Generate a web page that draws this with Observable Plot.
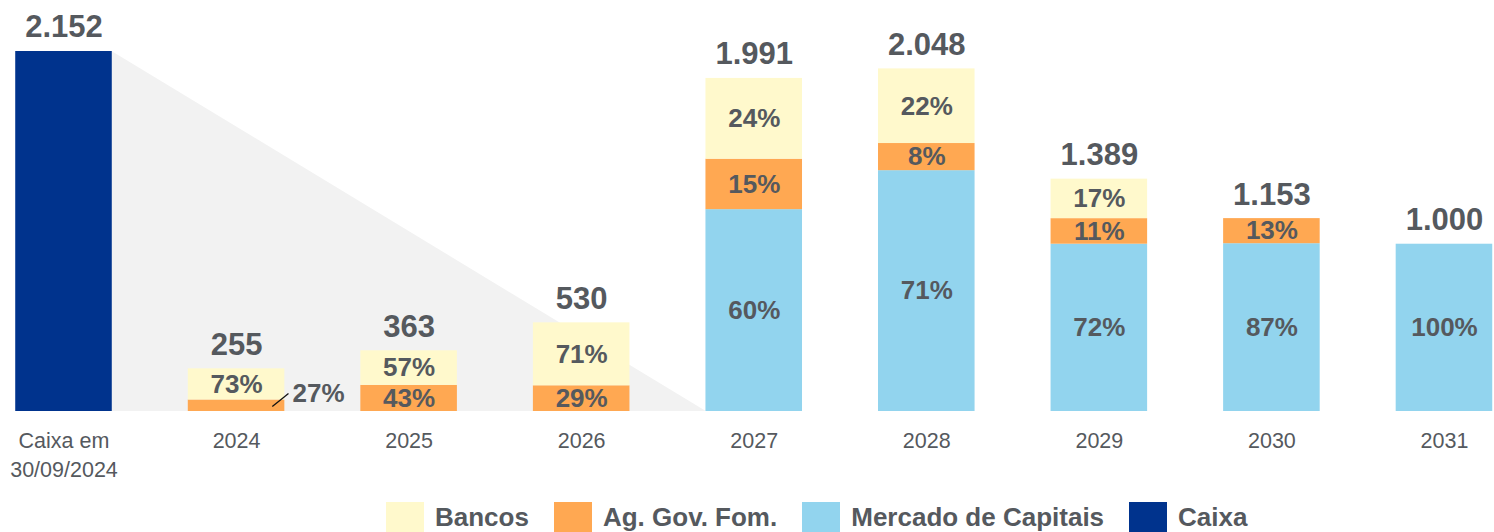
<!DOCTYPE html>
<html>
<head>
<meta charset="utf-8">
<script src="https://cdn.jsdelivr.net/npm/d3@7"></script>
<script src="https://cdn.jsdelivr.net/npm/@observablehq/plot@0.6"></script>
<style>
  html, body { margin: 0; padding: 0; background: #fff; }
  body { width: 1494px; height: 532px; overflow: hidden; font-family: "Liberation Sans", Arial, sans-serif; }
  #legend { display: flex; align-items: center; margin-left: 386px; padding-top: 12px; height: 30px; }
  .item { display: flex; align-items: center; margin-right: 25px; }
  .sw { width: 38px; height: 30px; margin-right: 11px; }
  .lbl { font-weight: bold; font-size: 26px; color: #55595e; line-height: 30px; }
</style>
</head>
<body>
<div id="chart"></div>
<div id="legend"></div>
<script>
// ---- data ----
const categories = ["Caixa em\n30/09/2024", "2024", "2025", "2026", "2027", "2028", "2029", "2030", "2031"];
const totals     = [2152, 255, 363, 530, 1991, 2048, 1389, 1153, 1000];
const pctMercado = [0, 0, 0, 0, 60, 71, 72, 87, 100];
const pctAg      = [0, 27, 43, 29, 15, 8, 11, 13, 0];
const pctBancos  = [0, 73, 57, 71, 24, 22, 17, 0, 0];
const seriesNames  = ["Bancos", "Ag. Gov. Fom.", "Mercado de Capitais", "Caixa"];
const seriesColors = ["#FFF9CC", "#FFA852", "#92D4EE", "#00338D"];

const gray = "#55595e";
const fmt = d3.formatLocale({decimal: ",", thousands: ".", grouping: [3], currency: ["", ""]}).format(",d");

// build stacked rows (bottom to top: Mercado, Ag, Bancos)
const rows = [];
rows.push({i: 0, series: "Caixa", value: totals[0], pct: null});
for (let i = 1; i < categories.length; i++) {
  const parts = [["Mercado de Capitais", pctMercado[i]], ["Ag. Gov. Fom.", pctAg[i]], ["Bancos", pctBancos[i]]];
  const sum = parts.reduce((s, p) => s + p[1], 0);
  for (const [series, pct] of parts) {
    if (pct > 0) rows.push({i, series, pct, value: totals[i] * pct / sum});
  }
}
// the 2024 Ag. Gov. Fom. share is labelled outside the bar
const outside = rows.find(d => d.i === 1 && d.series === "Ag. Gov. Fom.");

const idx = categories.map((c, i) => i);
const halfBar = 0.278;           // half bar width in category steps
const caixaIdx = 0, triEndIdx = 4;
const triangle = [
  {x: caixaIdx + 0.5 + halfBar, y: totals[caixaIdx]},
  {x: triEndIdx + 0.5 - halfBar, y: 0}
];

const chart = Plot.plot({
  width: 1494,
  height: 490,
  marginLeft: 0, marginRight: 0, marginTop: 51, marginBottom: 79,
  style: {fontFamily: "'Liberation Sans', Arial, sans-serif", background: "white"},
  x: {type: "linear", domain: [0.132, 8.79], axis: null},
  y: {domain: [0, d3.max(totals)], axis: null},
  color: {domain: seriesNames, range: seriesColors},
  marks: [
    Plot.areaY(triangle, {x: "x", y: "y", fill: "#F2F2F2"}),
    Plot.rectY(rows, {x: "i", interval: 1, y: "value", fill: "series", insetLeft: 38, insetRight: 38}),
    Plot.text(rows, Plot.stackY({
      x: d => d.i + 0.5, y: "value",
      text: d => (d.pct == null || d === outside) ? "" : d.pct + "%",
      fontSize: 26, fontWeight: "bold", fill: gray
    })),
    // outside label for 2024 Ag. Gov. Fom.
    Plot.link([outside], {
      x1: d => d.i + 0.5 + 0.207, y1: d => d.value * 0.44,
      x2: d => d.i + 0.5 + 0.301, y2: d => d.value * 1.56,
      stroke: "#111", strokeWidth: 1.3
    }),
    Plot.text([outside], {
      x: d => d.i + 0.5 + 0.301, y: d => d.value * 1.56, dx: 4,
      text: d => d.pct + "%", textAnchor: "start",
      fontSize: 26, fontWeight: "bold", fill: gray
    }),
    // totals
    Plot.text(idx, {
      x: i => i + 0.5, y: i => totals[i], dy: -24,
      text: i => fmt(totals[i]),
      fontSize: 31, fontWeight: "bold", fill: gray
    }),
    // category labels
    Plot.text(idx, {
      x: i => i + 0.5, y: 0, dy: 16, lineAnchor: "top", lineHeight: 1.35,
      text: i => categories[i],
      fontSize: 21.5, fill: gray
    })
  ]
});
document.getElementById("chart").appendChild(chart);

// legend
const legend = document.getElementById("legend");
seriesNames.forEach((name, k) => {
  const it = document.createElement("div");
  it.className = "item";
  it.innerHTML = `<div class="sw" style="background:${seriesColors[k]}"></div><div class="lbl">${name}</div>`;
  legend.appendChild(it);
});
</script>
</body>
</html>
